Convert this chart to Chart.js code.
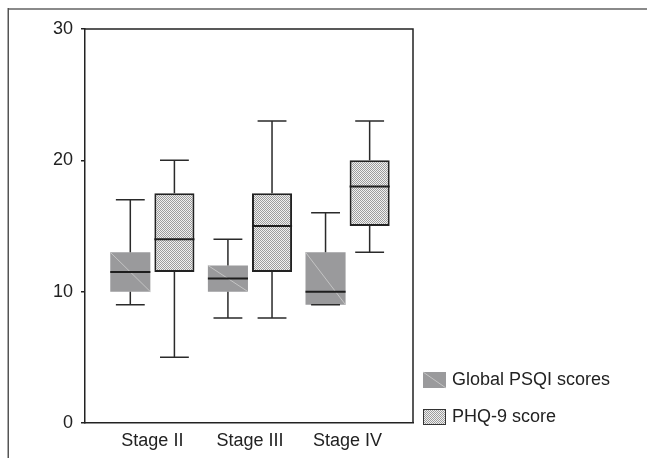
<!DOCTYPE html>
<html>
<head>
<meta charset="utf-8">
<script src="https://cdn.jsdelivr.net/npm/chart.js@4"></script>
<style>
  body { margin: 0; background: #fff; }
  #wrap { width: 647px; height: 458px; }
</style>
</head>
<body>
<div id="wrap"><canvas id="myChart" width="647" height="458"></canvas></div>
<script>
// datos
const categories = ['Stage II', 'Stage III', 'Stage IV'];
const seriesNames = ['Global PSQI scores', 'PHQ-9 score'];

const psqiMin    = [9, 8, 9];
const psqiQ1     = [10, 10, 9];
const psqiMedian = [11.5, 11, 10];
const psqiQ3     = [13, 12, 13];
const psqiMax    = [17, 14, 16];

const phqMin    = [5, 8, 13];
const phqQ1     = [11.5, 11.5, 15];
const phqMedian = [14, 15, 18];
const phqQ3     = [17.5, 17.5, 20];
const phqMax    = [20, 23, 23];

const yTicks = [0, 10, 20, 30];

const FONT = '"Liberation Sans", Arial, sans-serif';

//patron punteado fino para PHQ-9
function makeDots() {
    const c = document.createElement('canvas');
    c.width = 2; c.height = 2;
    const g = c.getContext('2d');
    g.fillStyle = '#f0f0f0';
    g.fillRect(0, 0, 2, 2);
    g.fillStyle = '#9c9c9c';
    g.fillRect(0, 0, 1, 1);
    g.fillRect(1, 1, 1, 1);
    return g.createPattern(c, 'repeat');
}
const dots = makeDots();
const psqiGray = '#9a9a9c';

const boxes = (q1, q3) => categories.map((c, i) => ({ x: i, y: [q1[i], q3[i]] }));

//bigotes, medianas y marco
const boxPlugin = {
    id: 'boxPlugin',
    afterDatasetsDraw(chart) {
        const ctx = chart.ctx;
        const y = chart.scales.y;
        chart.data.datasets.forEach((ds, d) => {
            const meta = chart.getDatasetMeta(d);
            meta.data.forEach((bar, i) => {
                const x = bar.x, w = bar.width;
                const top = y.getPixelForValue(ds.q3[i]);
                const bot = y.getPixelForValue(ds.q1[i]);
                ctx.save();
                if (d === 0) {
                    //linea diagonal clara
                    ctx.strokeStyle = '#c4c4c4';
                    ctx.lineWidth = 1;
                    ctx.beginPath();
                    ctx.moveTo(x - w / 2, top);
                    ctx.lineTo(x + w / 2, bot);
                    ctx.stroke();
                }
                ctx.strokeStyle = '#2a2a2a';
                ctx.lineWidth = 1.5;
                const cap = w * 0.36;
                const yMax = y.getPixelForValue(ds.max[i]);
                const yMin = y.getPixelForValue(ds.min[i]);
                ctx.beginPath();
                ctx.moveTo(x, top); ctx.lineTo(x, yMax);
                ctx.moveTo(x - cap, yMax); ctx.lineTo(x + cap, yMax);
                ctx.moveTo(x, bot); ctx.lineTo(x, yMin);
                ctx.moveTo(x - cap, yMin); ctx.lineTo(x + cap, yMin);
                ctx.stroke();
                //mediana
                ctx.lineWidth = 2;
                ctx.strokeStyle = '#1e1e1e';
                const ym = y.getPixelForValue(ds.median[i]);
                ctx.beginPath();
                ctx.moveTo(x - w / 2, ym); ctx.lineTo(x + w / 2, ym);
                ctx.stroke();
                ctx.restore();
            });
        });
    },
    afterDraw(chart) {
        const ctx = chart.ctx;
        const a = chart.chartArea;
        ctx.save();
        //marco exterior
        ctx.fillStyle = '#8a8a8a';
        ctx.fillRect(8, 8, 647 - 8, 2);
        ctx.fillStyle = '#555';
        ctx.fillRect(7.5, 8, 1.5, 458 - 8);
        //borde superior y derecho del grafico
        ctx.strokeStyle = '#222';
        ctx.lineWidth = 1.5;
        ctx.beginPath();
        ctx.moveTo(a.left, a.top);
        ctx.lineTo(a.right, a.top);
        ctx.lineTo(a.right, a.bottom);
        ctx.stroke();

        //leyenda
        const lx = a.right + 10;
        const items = [
            { y: a.bottom - 51, fill: psqiGray, border: null },
            { y: a.bottom - 14, fill: dots, border: '#333' }
        ];
        ctx.font = '18px ' + FONT;
        ctx.textBaseline = 'middle';
        items.forEach((it, k) => {
            ctx.fillStyle = it.fill;
            ctx.fillRect(lx, it.y, 23, 16);
            if (k === 0) {
                ctx.strokeStyle = '#c4c4c4';
                ctx.lineWidth = 1;
                ctx.beginPath();
                ctx.moveTo(lx, it.y); ctx.lineTo(lx + 23, it.y + 16);
                ctx.stroke();
            } else {
                ctx.strokeStyle = it.border;
                ctx.lineWidth = 1;
                ctx.strokeRect(lx + 0.5, it.y + 0.5, 22, 15);
            }
            ctx.fillStyle = '#222';
            ctx.fillText(seriesNames[k], lx + 29, it.y + 8.5);
        });
        ctx.restore();
    }
};

const data = {
    datasets: [{
        label: seriesNames[0],
        data: boxes(psqiQ1, psqiQ3),
        q1: psqiQ1, q3: psqiQ3, min: psqiMin, max: psqiMax, median: psqiMedian,
        backgroundColor: psqiGray,
        borderWidth: 0
    }, {
        label: seriesNames[1],
        data: boxes(phqQ1, phqQ3),
        q1: phqQ1, q3: phqQ3, min: phqMin, max: phqMax, median: phqMedian,
        backgroundColor: dots,
        borderColor: '#222',
        borderWidth: 2,
        borderSkipped: false
    }]
};

const config = {
    type: 'bar',
    data: data,
    options: {
        responsive: false,
        animation: false,
        categoryPercentage: 0.9035,
        barPercentage: 0.909,
        layout: { padding: { left: 0, top: 29, right: 234, bottom: 0 } },
        plugins: { legend: { display: false }, tooltip: { enabled: false } },
        scales: {
            x: {
                type: 'linear',
                offset: false,
                min: -0.69,
                max: 2.67,
                afterBuildTicks: s => { s.ticks = categories.map((c, i) => ({ value: i })); },
                afterFit: s => { s.height = 35; },
                grid: { display: true, drawOnChartArea: false, drawTicks: false },
                border: { display: true, color: '#222', width: 1.5 },
                ticks: {
                    autoSkip: false, maxRotation: 0, padding: 7,
                    color: '#222', font: { family: FONT, size: 18 },
                    callback: v => categories[v]
                }
            },
            y: {
                min: 0,
                max: 30,
                afterBuildTicks: s => { s.ticks = yTicks.map(v => ({ value: v })); },
                afterFit: s => { s.width = 85; },
                grid: { drawOnChartArea: false, drawTicks: true, tickLength: 4, color: '#222', lineWidth: 1.5 },
                border: { display: true, color: '#222', width: 1.5 },
                ticks: { padding: 8, color: '#222', font: { family: FONT, size: 18 } }
            }
        }
    },
    plugins: [boxPlugin]
};

const myChart = new Chart(document.getElementById('myChart'), config);
</script>
</body>
</html>
